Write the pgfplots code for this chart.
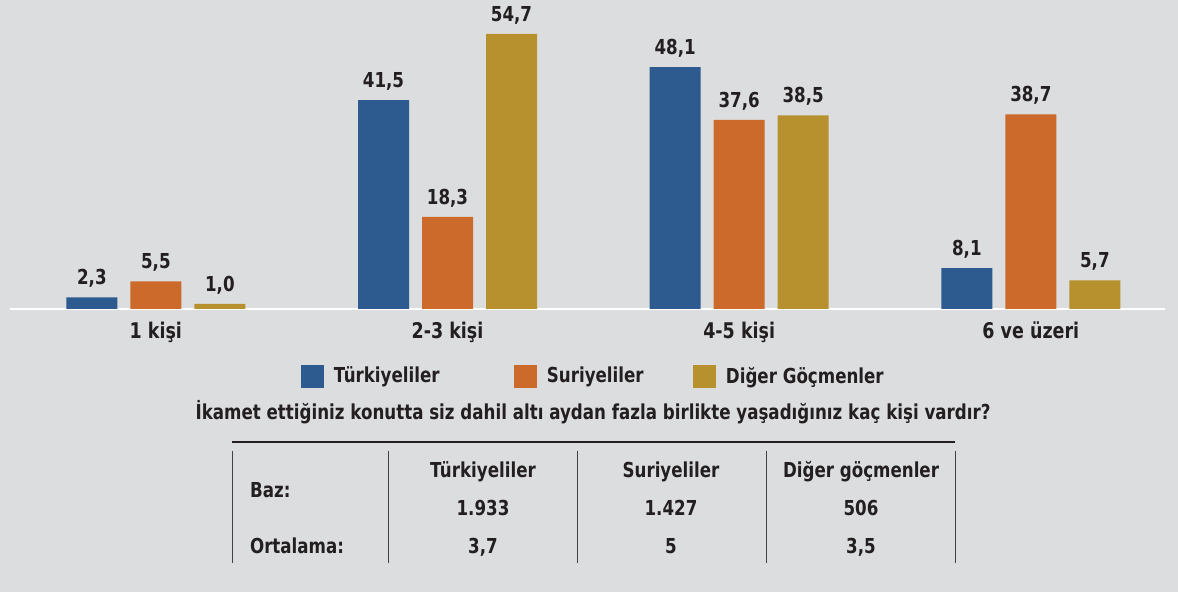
\documentclass[border=0pt]{standalone}
\usepackage{fontspec}
\setmainfont{DejaVu Sans}[FakeStretch=0.81]
\usepackage{pgfplots}
\pgfplotsset{compat=1.18}
\definecolor{bg}{HTML}{DCDDDF}
\definecolor{cblue}{HTML}{2D5A8F}
\definecolor{corange}{HTML}{CB6A2B}
\definecolor{cgold}{HTML}{B8912F}
\definecolor{txt}{HTML}{231F20}
\begin{document}
\begin{tikzpicture}[x=0.5pt,y=0.5pt,font=\bfseries\fontsize{10.3pt}{12pt}\selectfont,text=txt]
\fill[bg] (0,0) rectangle (1178,592);
\useasboundingbox (0,0) rectangle (1178,592);
\begin{axis}[
  at={(5pt,141.5pt)}, anchor=south west,
  scale only axis, width=577.5pt, height=150.9pt,
  xmin=-0.5, xmax=3.46, ymin=0, ymax=60,
  ybar=6.5pt, bar width=25.5pt,
  axis y line=none, axis x line=bottom,
  x axis line style={-, white, line width=1.2pt},
  xtick={0,1,2,3},
  xticklabels={1 kişi,2-3 kişi,4-5 kişi,6 ve üzeri},
  major tick length=0pt,
  xticklabel style={anchor=base, yshift=-15pt, text=txt, font=\bfseries\fontsize{10.8pt}{13pt}\selectfont},
  nodes near coords,
  every node near coord/.append style={anchor=base, yshift=6.3pt, inner sep=0pt, text=txt, font=\bfseries\fontsize{10.3pt}{12pt}\selectfont},
  /pgf/number format/use comma,
  /pgf/number format/fixed,
  /pgf/number format/fixed zerofill,
  /pgf/number format/precision=1,
  /pgf/number format/assume math mode=true,
  legend columns=3,
  legend cell align=left,
  legend image code/.code={\fill[#1] (0pt,-5.75pt) rectangle (11.5pt,5.75pt);},
  legend style={at={(0.2519,-0.2235)}, anchor=west, draw=none, fill=none, inner sep=0pt, outer sep=0pt,
    nodes={inner sep=0pt, text=txt, font=\bfseries\fontsize{10.3pt}{12pt}\selectfont},
    /tikz/every odd column/.style={column sep=5pt}},
]
\addplot[fill=cblue, draw=none] coordinates {(0,2.3) (1,41.5) (2,48.1) (3,8.1)};
\addlegendentry{\makebox[90pt][l]{Türkiyeliler}}
\addplot[fill=corange, draw=none] coordinates {(0,5.5) (1,18.3) (2,37.6) (3,38.7)};
\addlegendentry{\makebox[73pt][l]{Suriyeliler}}
\addplot[fill=cgold, draw=none] coordinates {(0,1.0) (1,54.7) (2,38.5) (3,5.7)};
\addlegendentry{Diğer Göçmenler}
\end{axis}
\node[anchor=base] at (593,172) {İkamet ettiğiniz konutta siz dahil altı aydan fazla birlikte yaşadığınız kaç kişi vardır?};
\draw[txt, line width=0.6pt] (232,150) -- (955,150);
\foreach \xx in {232,388,577,766,955} {\draw[txt!85, line width=0.5pt] (\xx,141) -- (\xx,29);}
\node[anchor=base west] at (243,94) {Baz:};
\node[anchor=base west] at (243,38) {Ortalama:};
\node[anchor=base] at (483,114) {Türkiyeliler};
\node[anchor=base] at (671,114) {Suriyeliler};
\node[anchor=base] at (861,114) {Diğer göçmenler};
\node[anchor=base] at (483,76) {1.933};
\node[anchor=base] at (671,76) {1.427};
\node[anchor=base] at (861,76) {506};
\node[anchor=base] at (483,38) {3,7};
\node[anchor=base] at (671,38) {5};
\node[anchor=base] at (861,38) {3,5};
\end{tikzpicture}
\end{document}
